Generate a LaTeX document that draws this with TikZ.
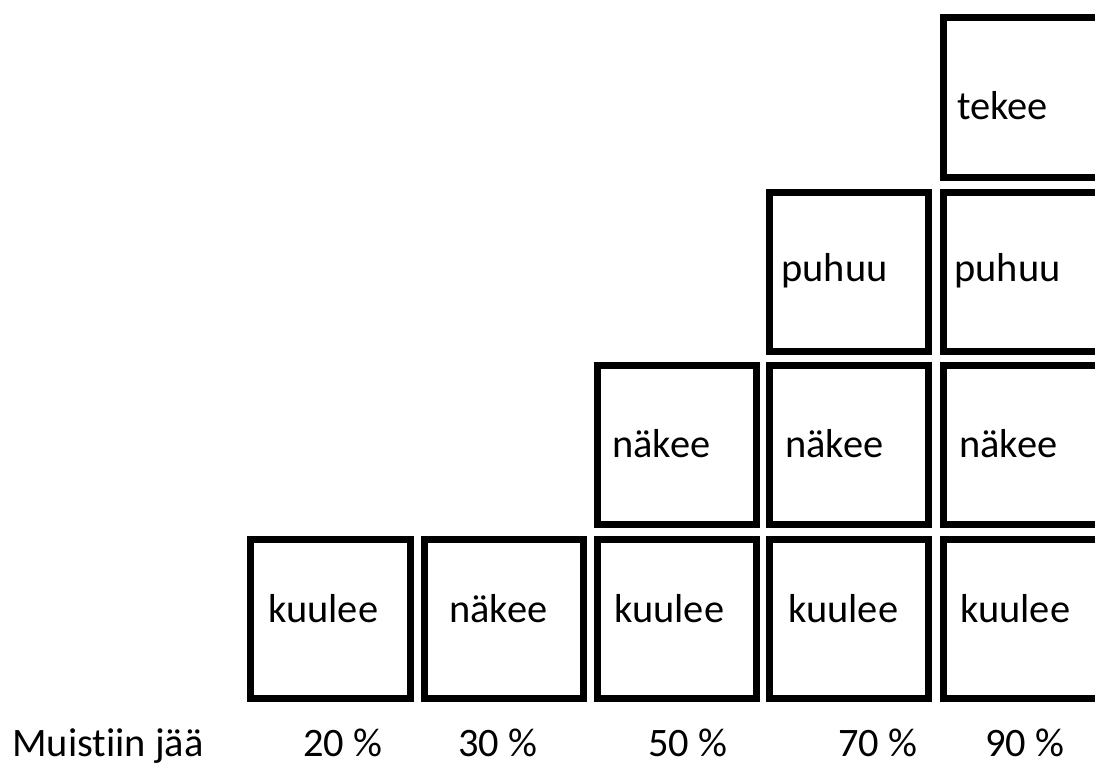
\documentclass[tikz,border=0pt]{standalone}
\usepackage{fontspec}
\setmainfont[Ligatures=NoCommon]{Carlito}
\usepackage{tikz}
\usetikzlibrary{positioning}

\begin{document}
\begin{tikzpicture}[x=0.02cm, y=0.02cm,
    box/.style={rectangle, draw, line width=0.14cm, minimum size=3.2cm, inner sep=0pt, fill=white},
    word/.style={anchor=base west, inner sep=0pt, font=\fontsize{23}{27}\selectfont},
    pct/.style={anchor=base west, inner sep=0pt, text depth=0pt, font=\fontsize{23}{27}\selectfont}]

    % canvas
    \useasboundingbox (0,0) rectangle (1095,765);
    \clip (0,0) rectangle (1095,765);

    % Bottom row
    \node[box] (b1) at (330.5,146) {};
    \node[box] (b2) at (504,146) {};
    \node[box] (b3) at (677,146) {};
    \node[box] (b4) at (849,146) {};
    \node[box] (b5) at (1023,146) {};

    % Second row
    \node[box] (c3) at (677,320) {};
    \node[box] (c4) at (849,320) {};
    \node[box] (c5) at (1023,320) {};

    % Third row
    \node[box] (d4) at (849,493) {};
    \node[box] (d5) at (1023,493) {};

    % Top box
    \node[box] (e5) at (1023,667.5) {};

    % Words in the boxes
    \node[word] (w1) at (268,143) {kuulee};
    \node[word] (w2) at (449,143) {näkee};
    \node[word] (w3) at (614,143) {kuulee};
    \node[word] (w4) at (788,143) {kuulee};
    \node[word] (w5) at (960,143) {kuulee};

    \node[word] (x3) at (612,308) {näkee};
    \node[word] (x4) at (785,308) {näkee};
    \node[word] (x5) at (959,308) {näkee};

    \node[word] (y4) at (781,483) {puhuu};
    \node[word] (y5) at (954,483) {puhuu};

    \node[word] (z5) at (957,645) {tekee};

    % Percentages below
    \node[pct] (lbl) at (12,9) {Muistiin jää};
    \node[pct] (p20) at (303,9) {20 \%};
    \node[pct] (p30) at (458,9) {30 \%};
    \node[pct] (p50) at (648,9) {50 \%};
    \node[pct] (p70) at (838,9) {70 \%};
    \node[pct] (p90) at (985,9) {90 \%};

\end{tikzpicture}
\end{document}
